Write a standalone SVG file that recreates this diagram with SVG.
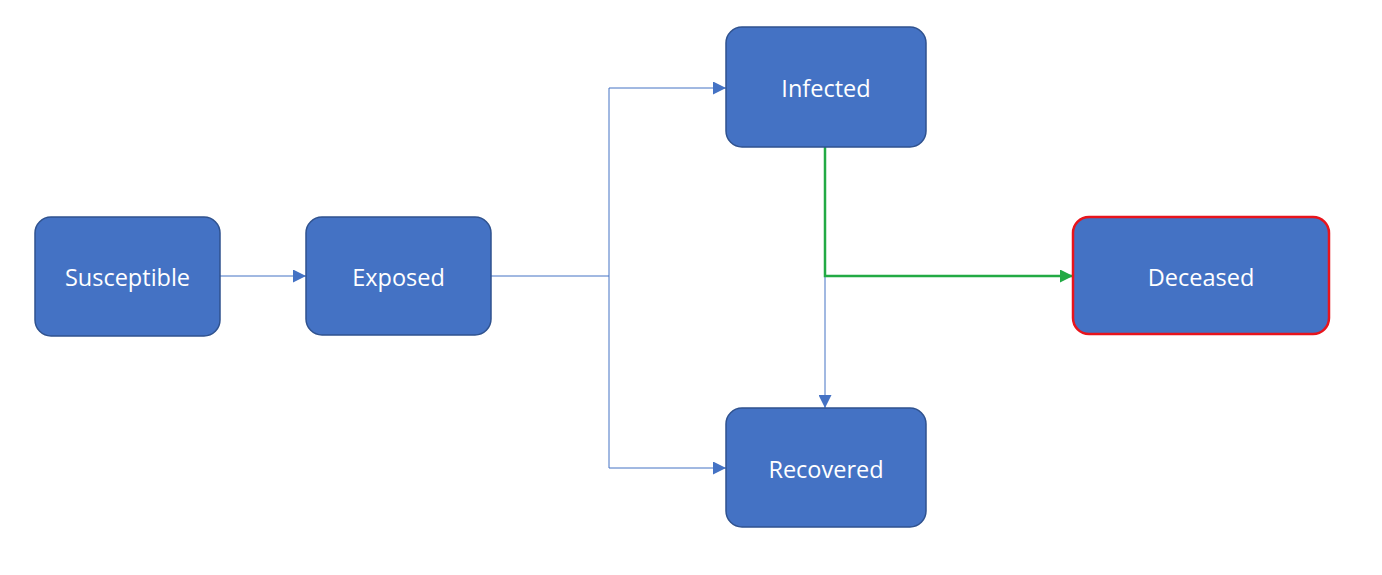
<svg xmlns="http://www.w3.org/2000/svg" width="1382" height="575" viewBox="0 0 1382 575">
<style>
.node rect{fill:#4472C4;stroke:#2F528F;stroke-width:1.5}
.node text{fill:#ffffff;font-family:"Open Sans","Noto Sans",sans-serif;font-size:23.5px;text-anchor:middle;dominant-baseline:central}
.blue{fill:none;stroke:#4472C4;stroke-width:1}
.green{fill:none;stroke:#22AA44;stroke-width:2.5}
</style>
<defs>
<marker id="ab" viewBox="0 0 10 10" refX="10" refY="5" markerWidth="13" markerHeight="13" markerUnits="userSpaceOnUse" orient="auto"><path d="M0,0 L10,5 L0,10 z" fill="#4472C4"/></marker>
<marker id="ag" viewBox="0 0 10 10" refX="10" refY="5" markerWidth="13" markerHeight="13" markerUnits="userSpaceOnUse" orient="auto"><path d="M0,0 L10,5 L0,10 z" fill="#22AA44"/></marker>
</defs>
<rect width="1382" height="575" fill="#ffffff"/>
<g id="connectors">
<path class="blue" d="M220,276 L306,276" marker-end="url(#ab)"/>
<path class="blue" d="M491,276 L609,276"/>
<path class="blue" d="M609,88 L609,468"/>
<path class="blue" d="M609,88 L726,88" marker-end="url(#ab)"/>
<path class="blue" d="M609,468 L726,468" marker-end="url(#ab)"/>
<path class="blue" d="M825,276 L825,408" marker-end="url(#ab)"/>
<path class="green" d="M825,147 L825,276 L1073,276" marker-end="url(#ag)"/>
</g>
<g id="susceptible" class="node"><rect x="35" y="217" width="185" height="119" rx="16"/><text x="127.5" y="277">Susceptible</text></g>
<g id="exposed" class="node"><rect x="306" y="217" width="185" height="118" rx="16"/><text x="398.5" y="277">Exposed</text></g>
<g id="infected" class="node"><rect x="726" y="27" width="200" height="120" rx="16"/><text x="826" y="88">Infected</text></g>
<g id="recovered" class="node"><rect x="726" y="408" width="200" height="119" rx="16"/><text x="826" y="469">Recovered</text></g>
<g id="deceased" class="node"><rect x="1073" y="217" width="256" height="117" rx="16" style="stroke:#E8141C;stroke-width:2.5"/><text x="1201" y="277">Deceased</text></g>
</svg>
